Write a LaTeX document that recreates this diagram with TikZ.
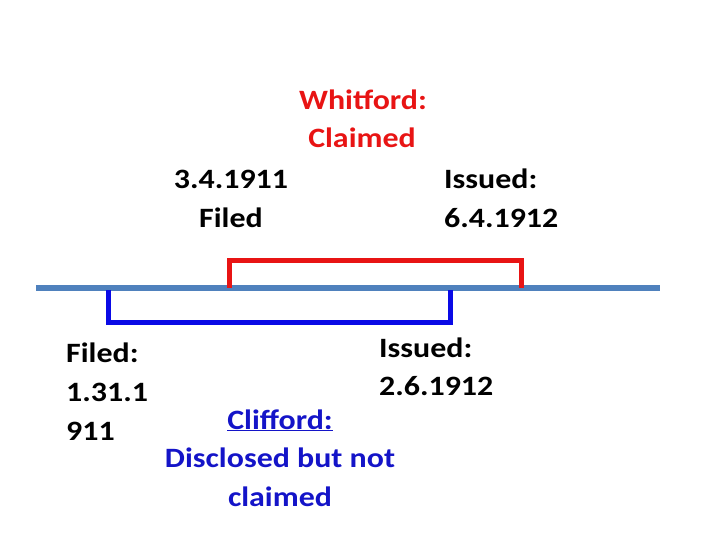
\documentclass[tikz,border=0pt]{standalone}
\usepackage{fontspec}
\setmainfont{Carlito}[FakeStretch=1.14]
\definecolor{axisblue}{HTML}{4F81BD}
\definecolor{wred}{HTML}{E81414}
\definecolor{cblue}{HTML}{1414C8}
\definecolor{bblue}{HTML}{0A0AE6}
\begin{document}
\begin{tikzpicture}[x=1pt,y=-1pt,
  txt/.style={inner sep=0pt,font=\fontsize{28}{38.5}\selectfont\bfseries,anchor=base},
  txtw/.style={txt,anchor=base west},
  axis/.style={line width=6pt,color=axisblue},
  redbr/.style={line width=5pt,color=wred,line cap=butt,line join=miter},
  bluebr/.style={line width=5pt,color=bblue,line cap=butt,line join=miter}]
\useasboundingbox (0,0) rectangle (720,540);
% axis
\coordinate (axL) at (36,288);
\coordinate (axR) at (660,288);
\draw[axis] (axL) -- (axR);
% red bracket
\coordinate (r1) at (229,288);
\coordinate (r2) at (229,260);
\coordinate (r3) at (521,260);
\coordinate (r4) at (521,288);
\draw[redbr] (r1) -- (r2) -- (r3) -- (r4);
% blue bracket
\coordinate (b1) at (108,290);
\coordinate (b2) at (108,322);
\coordinate (b3) at (450,322);
\coordinate (b4) at (450,290);
\draw[bluebr] (b1) -- (b2) -- (b3) -- (b4);
% texts
\node[txt,text=wred] (w1) at (363,110) {Whitford:};
\node[txt,text=wred] (w2) at (362,148) {Claimed};
\node[txt] (f1) at (231,189) {3.4.1911};
\node[txt] (f2) at (231,227) {Filed};
\node[txtw] (i1) at (444,189) {Issued:};
\node[txtw] (i2) at (444,227) {6.4.1912};
\node[txtw] (j1) at (379,357) {Issued:};
\node[txtw] (j2) at (379,395) {2.6.1912};
\node[txtw] (g1) at (66,362) {Filed:};
\node[txtw] (g2) at (66,401) {1.31.1};
\node[txtw] (g3) at (66,440) {911};
\node[txt,text=cblue] (c1) at (280,429) {\underline{Clifford:}};
\node[txt,text=cblue] (c2) at (280,467) {Disclosed but not};
\node[txt,text=cblue] (c3) at (280,506) {claimed};
\end{tikzpicture}
\end{document}
